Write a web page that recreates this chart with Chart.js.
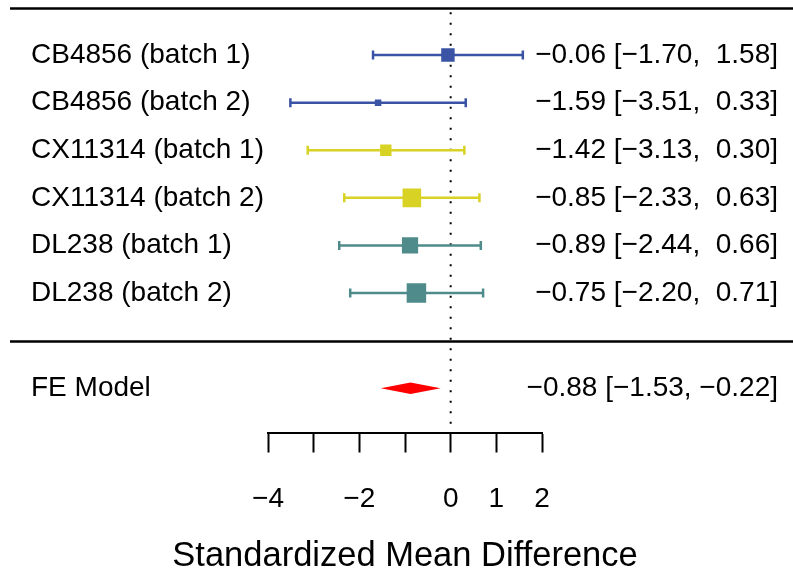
<!DOCTYPE html>
<html>
<head>
<meta charset="utf-8">
<script src="https://cdn.jsdelivr.net/npm/chart.js@4.4.1/dist/chart.umd.min.js"></script>
<style>
  html, body { margin: 0; padding: 0; background: #fff; }
  #forest { display: block; }
</style>
</head>
<body>
<canvas id="forest" width="793" height="574"></canvas>
<script>
// Study data
const studies = ['CB4856 (batch 1)', 'CB4856 (batch 2)', 'CX11314 (batch 1)', 'CX11314 (batch 2)', 'DL238 (batch 1)', 'DL238 (batch 2)'];
const estimates = [-0.06, -1.59, -1.42, -0.85, -0.89, -0.75];
const ciLower = [-1.70, -3.51, -3.13, -2.33, -2.44, -2.20];
const ciUpper = [1.58, 0.33, 0.30, 0.63, 0.66, 0.71];
const rows = [6, 5, 4, 3, 2, 1];

// Fixed-effect summary
const feLabel = 'FE Model';
const feRow = -1;
const feEstimate = -0.88;
const feLower = -1.53;
const feUpper = -0.22;

// Axis
const xTicks = [-4, -3, -2, -1, 0, 1, 2];
const xTickLabels = [-4, -2, 0, 1, 2];
const xTitle = 'Standardized Mean Difference';

const studyColors = ['#3a53a4', '#3a53a4', '#d8d224', '#d8d224', '#4f8b8a', '#4f8b8a'];
const FONT = '"Liberation Sans", Arial, sans-serif';

// metafor-style square sizes: 1/sqrt(vi), rescaled to 0.5..1.5
const wi = ciLower.map((lb, i) => 1 / (ciUpper[i] - lb));
const wMin = Math.min(...wi), wMax = Math.max(...wi);
const psize = wi.map(w => (w - wMin) / (wMax - wMin) + 0.5);

function fmt(v) {
    const s = Math.abs(v).toFixed(2);
    return v < 0 ? '\u2212' + s : ' ' + s;
}
function annot(est, lb, ub) {
    return `${fmt(est)} [${fmt(lb)}, ${fmt(ub)}]`;
}

// CI lines with end caps, one dataset per study
const datasets = studies.map((s, i) => ({
    type: 'line',
    label: s,
    data: [{ x: ciLower[i], y: rows[i] }, { x: ciUpper[i], y: rows[i] }],
    borderColor: studyColors[i],
    borderWidth: 2.5,
    pointStyle: 'line',
    rotation: 90,
    pointRadius: 4.5,
    pointBorderWidth: 2.5,
    pointBorderColor: studyColors[i],
    order: 2
}));

// Point estimates as squares
datasets.push({
    type: 'scatter',
    label: 'estimates',
    data: estimates.map((e, i) => ({ x: e, y: rows[i] })),
    pointStyle: 'rect',
    pointRadius: psize.map(p => p * 13 / Math.SQRT2),
    pointBackgroundColor: studyColors,
    pointBorderWidth: 0,
    order: 1
});

const forestDecor = {
    id: 'forestDecor',
    beforeDatasetsDraw(chart) {
        const { ctx, scales: { x, y } } = chart;
        ctx.save();
        // reference line at 0
        ctx.strokeStyle = '#000';
        ctx.lineWidth = 2;
        ctx.setLineDash([2, 8.5]);
        ctx.beginPath();
        ctx.moveTo(x.getPixelForValue(0), y.getPixelForValue(6.9));
        ctx.lineTo(x.getPixelForValue(0), y.getPixelForValue(-1.8));
        ctx.stroke();
        ctx.restore();
    },
    afterDatasetsDraw(chart) {
        const { ctx, scales: { x, y } } = chart;
        const w = chart.width;
        ctx.save();

        // horizontal rules
        ctx.strokeStyle = '#000';
        ctx.lineWidth = 2.5;
        [7, 0].forEach(r => {
            const py = Math.round(y.getPixelForValue(r)) + 0.5;
            ctx.beginPath();
            ctx.moveTo(10, py);
            ctx.lineTo(w, py);
            ctx.stroke();
        });

        // summary diamond
        const h = 0.12;
        ctx.fillStyle = '#ff0000';
        ctx.beginPath();
        ctx.moveTo(x.getPixelForValue(feLower), y.getPixelForValue(feRow));
        ctx.lineTo(x.getPixelForValue(feEstimate), y.getPixelForValue(feRow + h));
        ctx.lineTo(x.getPixelForValue(feUpper), y.getPixelForValue(feRow));
        ctx.lineTo(x.getPixelForValue(feEstimate), y.getPixelForValue(feRow - h));
        ctx.closePath();
        ctx.fill();

        // study labels and annotations
        ctx.fillStyle = '#000';
        ctx.font = `28px ${FONT}`;
        ctx.textBaseline = 'middle';
        studies.forEach((s, i) => {
            const py = y.getPixelForValue(rows[i]);
            ctx.textAlign = 'left';
            ctx.fillText(s, 31, py);
            ctx.textAlign = 'right';
            ctx.fillText(annot(estimates[i], ciLower[i], ciUpper[i]), 778, py);
        });
        const fy = y.getPixelForValue(feRow);
        ctx.textAlign = 'left';
        ctx.fillText(feLabel, 31, fy);
        ctx.textAlign = 'right';
        ctx.fillText(annot(feEstimate, feLower, feUpper), 778, fy);

        // axis title (wider than the plot region, so drawn here unclipped)
        ctx.font = `34.5px ${FONT}`;
        ctx.textAlign = 'center';
        ctx.fillText(xTitle, (x.left + x.right) / 2, 556);

        ctx.restore();
    }
};

new Chart(document.getElementById('forest'), {
    data: { datasets },
    options: {
        responsive: false,
        animation: false,
        events: [],
        layout: { autoPadding: false, padding: { left: 268, right: 251, top: 7.5, bottom: 0 } },
        plugins: { legend: { display: false }, tooltip: { enabled: false } },
        scales: {
            x: {
                type: 'linear',
                min: -4,
                max: 2,
                afterFit: scale => { scale.height = 141.5; },
                afterBuildTicks: scale => { scale.ticks = xTicks.map(v => ({ value: v })); },
                border: { display: true, color: '#000', width: 2 },
                grid: { drawOnChartArea: false, drawTicks: true, tickLength: 20, tickWidth: 2, tickColor: '#000' },
                ticks: {
                    autoSkip: false,
                    maxRotation: 0,
                    padding: 30,
                    color: '#000',
                    font: { family: FONT, size: 28 },
                    callback: v => xTickLabels.includes(v) ? (v < 0 ? '\u2212' + Math.abs(v) : String(v)) : ''
                },
                title: { display: false, text: xTitle }
            },
            y: {
                type: 'linear',
                min: -1.93,
                max: 7,
                display: false
            }
        }
    },
    plugins: [forestDecor]
});
</script>
</body>
</html>
